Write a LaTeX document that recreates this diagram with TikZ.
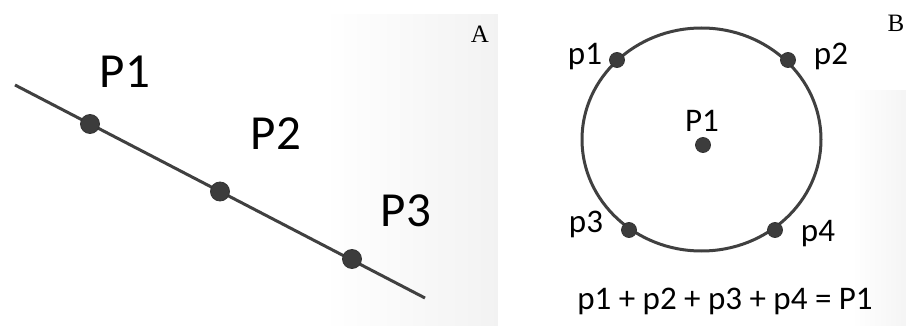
\documentclass[tikz,border=0pt]{standalone}
\usepackage{fontspec}
\setmainfont{Liberation Serif}
\newfontfamily\calib{Carlito}
\definecolor{linegray}{HTML}{404040}
\definecolor{dotgray}{HTML}{3C3C3C}
\tikzset{
  bigdot/.style={circle, fill=dotgray, draw=black!80, line width=0.8pt, minimum size=19pt, inner sep=0pt},
  smalldot/.style={circle, fill=dotgray, draw=black!80, line width=0.8pt, minimum size=15pt, inner sep=0pt},
  biglabel/.style={font=\calib\fontsize{49}{51}\selectfont, anchor=base, inner sep=0pt},
  smalllabel/.style={font=\calib\fontsize{33}{35}\selectfont, anchor=base, inner sep=0pt},
  panellabel/.style={font=\fontsize{25}{27}\selectfont, anchor=base, inner sep=0pt},
  geomline/.style={draw=linegray, line width=3pt}
}
\begin{document}
\begin{tikzpicture}[x=1pt,y=-1pt]
\useasboundingbox (0,0) rectangle (906,326);
\fill[white] (0,0) rectangle (906,326);
% subtle background gradients (stepped strips)
\foreach \i in {0,...,39} {
  \pgfmathsetmacro{\xa}{327+\i*4.275}
  \pgfmathsetmacro{\xb}{\xa+4.6}
  \pgfmathsetmacro{\tone}{5*(\i+1)/40}
  \fill[black!\tone] (\xa,14) rectangle (\xb,326);
}
\foreach \i in {0,...,19} {
  \pgfmathsetmacro{\xa}{855+\i*2.55}
  \pgfmathsetmacro{\xb}{\xa+2.9}
  \pgfmathsetmacro{\tone}{4*(\i+1)/20}
  \fill[black!\tone] (\xa,90) rectangle (\xb,326);
}
% Panel A
\coordinate (Ls) at (15,85);
\coordinate (Le) at (425,298);
\draw[geomline] (Ls) -- (Le);
\node[bigdot] (d1) at (90,124) {};
\node[bigdot] (d2) at (220,191.5) {};
\node[bigdot] (d3) at (352,259) {};
\node[biglabel] (l1) at (125,88) {P1};
\node[biglabel] (l2) at (276,150) {P2};
\node[biglabel] (l3) at (406,227) {P3};
\node[panellabel] (A) at (480,43) {A};
% Panel B
\node[panellabel] (B) at (896,32) {B};
\draw[geomline] (701.5,139.5) ellipse [x radius=119.5, y radius=111.5];
\node[smalldot] (c) at (703,145) {};
\node[smalldot] (q1) at (617,60) {};
\node[smalldot] (q2) at (788,60) {};
\node[smalldot] (q3) at (629,230) {};
\node[smalldot] (q4) at (775,230) {};
\node[smalllabel] (cl) at (702,132) {P1};
\node[smalllabel] (t1) at (585,65) {p1};
\node[smalllabel] (t2) at (831,65) {p2};
\node[smalllabel] (t3) at (586,233) {p3};
\node[smalllabel] (t4) at (818,242) {p4};
\node[smalllabel] (eq) at (725,309) {p1 + p2 + p3 + p4 = P1};
\end{tikzpicture}
\end{document}
